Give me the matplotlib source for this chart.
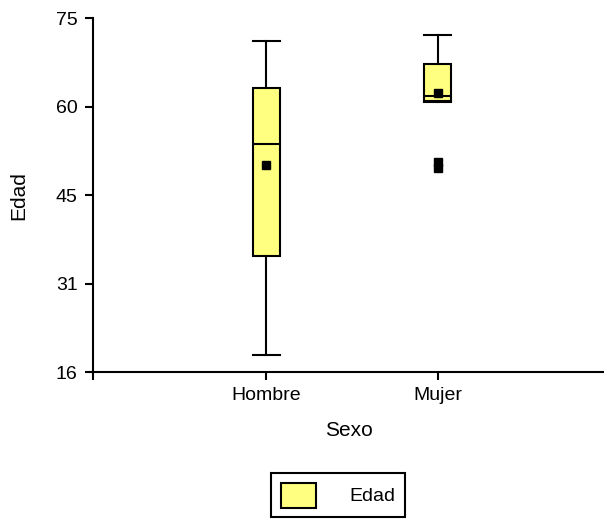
import numpy as np
import matplotlib.pyplot as plt
from matplotlib.patches import Patch

plt.rcParams['font.family'] = ['Liberation Sans', 'DejaVu Sans']

# data
groups = ['Hombre', 'Mujer']
whislo = [18.8, 61]
q1 = [35.3, 61.2]
med = [54, 62]
q3 = [63.3, 67.3]
whishi = [71.2, 72.2]
means = [50.5, 62.5]
outliers = [[], [50, 51]]
yticks_lab = ['16', '31', '45', '60', '75']

stats = []
for i in range(len(groups)):
    stats.append(dict(label=groups[i], whislo=whislo[i], q1=q1[i], med=med[i],
                      q3=q3[i], whishi=whishi[i], mean=means[i], fliers=outliers[i]))

fig = plt.figure(figsize=(6.04, 5.19), dpi=100)
ax = fig.add_axes([0.154, 0.283, 0.846, 0.682])

ax.bxp(stats, positions=[1, 2], widths=0.16, capwidths=0.16, showmeans=True, patch_artist=True,
       boxprops=dict(facecolor='#ffff80', edgecolor='black', linewidth=1.5),
       medianprops=dict(color='black', linewidth=1.5),
       whiskerprops=dict(color='black', linewidth=1.5),
       capprops=dict(color='black', linewidth=1.5),
       meanprops=dict(marker='s', markerfacecolor='black', markeredgecolor='black', markersize=6),
       flierprops=dict(marker='s', markerfacecolor='black', markeredgecolor='black', markersize=6))

ax.set_xlim(-0.012, 2.97)
ax.set_ylim(16, 75)
ax.set_xticks([-0.012, 1, 2])
ax.set_xticklabels(['', 'Hombre', 'Mujer'])
ax.set_yticks(np.linspace(16, 75, 5))
ax.set_yticklabels(yticks_lab)
ax.spines['top'].set_visible(False)
ax.spines['right'].set_visible(False)
for s in ['left', 'bottom']:
    ax.spines[s].set_linewidth(1.5)
ax.tick_params(width=1.5, length=6, labelsize=14, pad=5)
ax.set_xlabel('Sexo', fontsize=15, labelpad=12)
ax.set_ylabel('Edad', fontsize=15, labelpad=20)

leg = fig.legend(handles=[Patch(facecolor='#ffff80', edgecolor='black', linewidth=1.5, label='Edad')],
                 loc='upper center', bbox_to_anchor=(0.56, 0.089), fontsize=14,
                 handlelength=1.8, handleheight=1.6, fancybox=False, framealpha=1,
                 borderpad=0.5, handletextpad=1.7, borderaxespad=0)
leg.get_frame().set_edgecolor('black')
leg.get_frame().set_linewidth(1.5)

fig.savefig('out.png', dpi=100)
